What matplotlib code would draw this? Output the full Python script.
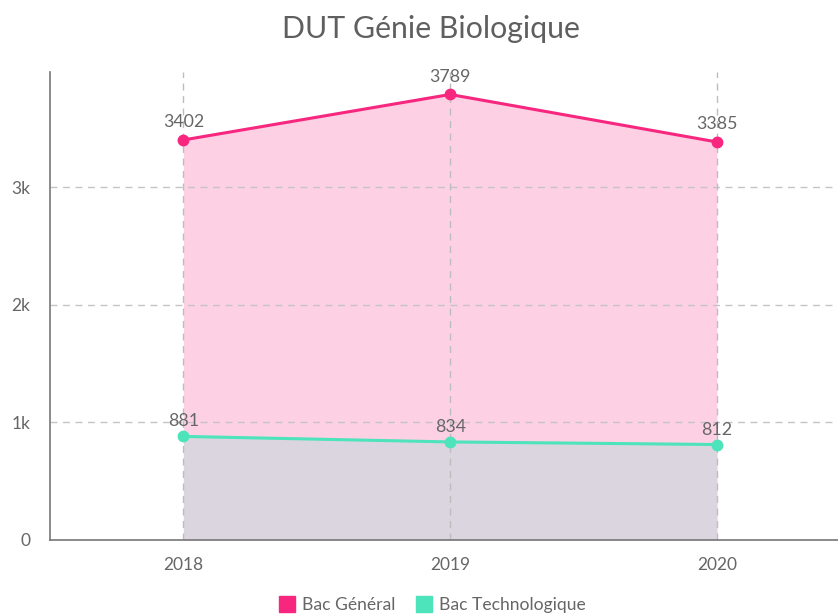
import matplotlib.pyplot as plt

years = ["2018", "2019", "2020"]
bac_general = [3402, 3789, 3385]
bac_techno = [881, 834, 812]
y_ticks = [0, 1000, 2000, 3000]
y_labels = ["0", "1k", "2k", "3k"]

PINK = "#f7277f"
PINK_FILL = "#fdd0e4"
TEAL = "#4de3bb"
OVERLAP_FILL = "#dbd5df"
TEXT = "#666666"

plt.rcParams["font.family"] = ["Lato", "DejaVu Sans"]

fig = plt.figure(figsize=(8.38, 6.15), dpi=100)
ax = fig.add_axes([50 / 838, 75 / 615, 788 / 838, 468 / 615])

x = list(range(len(years)))
ax.fill_between(x, 0, bac_general, color=PINK_FILL, lw=0, zorder=1)
ax.fill_between(x, 0, bac_techno, color=OVERLAP_FILL, lw=0, zorder=1)

ax.plot(x, bac_general, color=PINK, lw=2.2, marker="o", ms=7.5, zorder=4, label="Bac Général")
ax.plot(x, bac_techno, color=TEAL, lw=2.2, marker="o", ms=7.5, zorder=4, label="Bac Technologique")

for xi, v in zip(x, bac_general):
    ax.annotate(str(v), (xi, v), xytext=(0, 7), textcoords="offset points",
                ha="center", va="bottom", color=TEXT, fontsize=12.8, zorder=5)
for xi, v in zip(x, bac_techno):
    ax.annotate(str(v), (xi, v), xytext=(0, 5), textcoords="offset points",
                ha="center", va="bottom", color=TEXT, fontsize=12.8, zorder=5)

ax.set_xlim(-0.5, 2.454)
ax.set_ylim(0, 3980)
ax.set_xticks(x)
ax.set_xticklabels(years)
ax.set_yticks(y_ticks)
ax.set_yticklabels(y_labels)
ax.tick_params(length=0, colors=TEXT, labelsize=12.5, pad=12)
ax.tick_params(axis="y", pad=14)

for v in y_ticks[1:]:
    ax.axhline(v, color="#c4c4c4", lw=1, ls=(0, (5, 4)), zorder=2)
for xi in x:
    ax.axvline(xi, color="#bdbdbd", lw=1, ls=(0, (5, 4)), zorder=2)

for s in ["top", "right"]:
    ax.spines[s].set_visible(False)
ax.spines["left"].set_color("#777777")
ax.spines["bottom"].set_color("#777777")
ax.spines["left"].set_linewidth(1.2)
ax.spines["bottom"].set_linewidth(1.2)

fig.text(431 / 838, 1 - 29 / 615, "DUT Génie Biologique", ha="center", va="center",
         color="#5f5f5f", fontsize=21.8)

leg = fig.legend(handles=[plt.Line2D([], [], color=PINK, marker="s", ls="", ms=11),
                          plt.Line2D([], [], color=TEAL, marker="s", ls="", ms=11)],
                 labels=["Bac Général", "Bac Technologique"],
                 loc="center", bbox_to_anchor=(432 / 838, 1 - 605 / 615), ncol=2,
                 frameon=False, fontsize=12.6, handletextpad=0.35, columnspacing=1.1,
                 handlelength=1.0)
for t in leg.get_texts():
    t.set_color(TEXT)

fig.savefig("out.png", dpi=100)
